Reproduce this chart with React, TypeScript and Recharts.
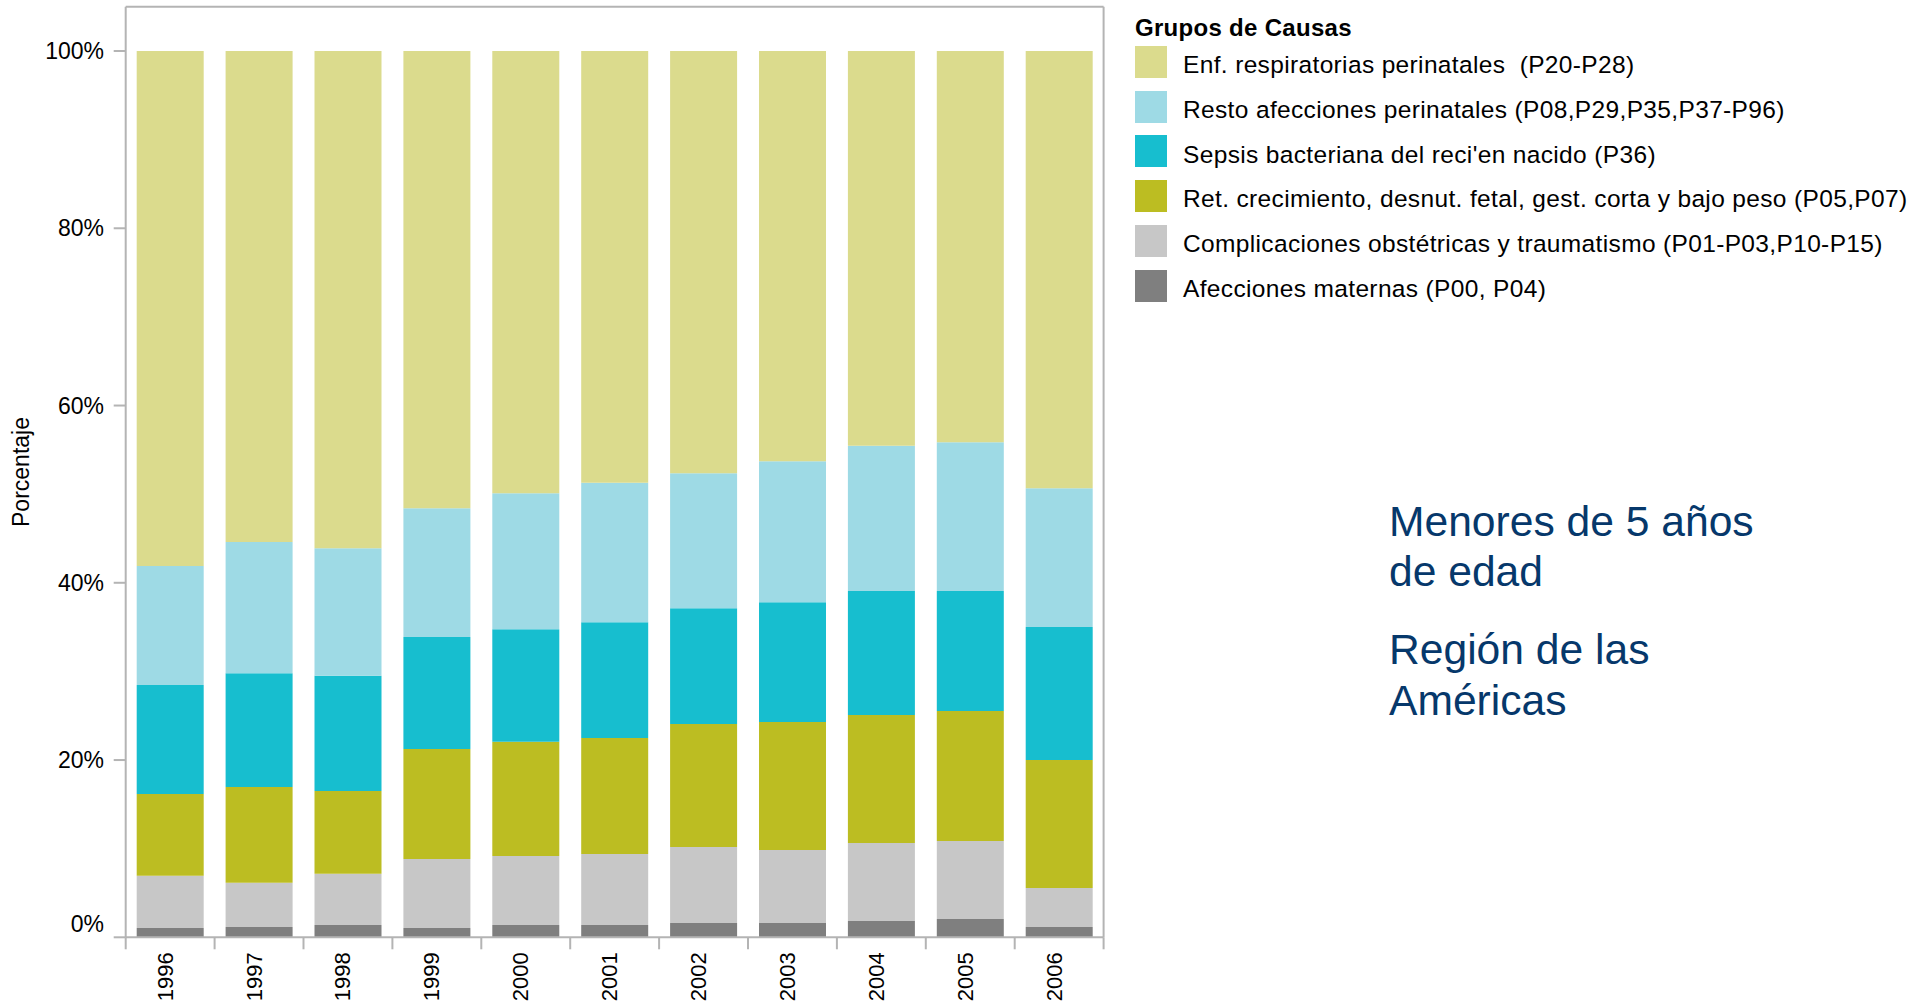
import React from 'react';
import { BarChart, Bar, XAxis, YAxis } from 'recharts';

// ---- Data (percent share of each cause group, per year) ----
const years = ['1996', '1997', '1998', '1999', '2000', '2001', '2002', '2003', '2004', '2005', '2006'];

const afeccionesMaternas = [1.05, 1.16, 1.39, 1.05, 1.39, 1.39, 1.61, 1.61, 1.84, 2.07, 1.16];
const complicacionesObstetricas = [5.9, 5.0, 5.79, 7.78, 7.78, 8.01, 8.58, 8.24, 8.8, 8.79, 4.4];
const retCrecimiento = [9.21, 10.79, 9.32, 12.41, 12.9, 13.08, 13.87, 14.43, 14.43, 14.66, 14.44];
const sepsisBacteriana = [12.3, 12.85, 13.0, 12.63, 12.7, 13.08, 13.08, 13.52, 13.99, 13.54, 15.0];
const restoAfecciones = [13.44, 14.8, 14.4, 14.53, 15.33, 15.74, 15.23, 15.9, 16.39, 16.81, 15.67];
const enfRespiratorias = [58.1, 55.4, 56.1, 51.6, 49.9, 48.7, 47.63, 46.3, 44.55, 44.13, 49.33];

// series from bottom of the stack to top
const seriesKeys = ['mat', 'comp', 'ret', 'sep', 'resto', 'resp'];
const seriesValues = [
  afeccionesMaternas,
  complicacionesObstetricas,
  retCrecimiento,
  sepsisBacteriana,
  restoAfecciones,
  enfRespiratorias,
];
const seriesNames = [
  'Afecciones maternas (P00, P04)',
  'Complicaciones obstétricas y traumatismo (P01-P03,P10-P15)',
  'Ret. crecimiento, desnut. fetal, gest. corta y bajo peso (P05,P07)',
  "Sepsis bacteriana del reci'en nacido (P36)",
  'Resto afecciones perinatales (P08,P29,P35,P37-P96)',
  'Enf. respiratorias perinatales  (P20-P28)',
];
const seriesColors = ['#7f7f7f', '#c7c7c7', '#bcbd22', '#17becf', '#9edae5', '#dbdb8d'];

const yTicks = [0, 20, 40, 60, 80, 100];

const legendTitle = 'Grupos de Causas';
const noteBlock1 = ['Menores de 5 años', 'de edad'];
const noteBlock2 = ['Región de las', 'Américas'];

// ---- Build the table recharts needs ----
const data = years.map((year, i) => {
  const row: Record<string, any> = { year };
  seriesKeys.forEach((k, s) => {
    row[k] = seriesValues[s][i];
  });
  return row;
});

// ---- Layout ----
const W = 1928;
const H = 1006;
const Y_AXIS_W = 125.7;
const PLOT_TOP = 6.7;
const PLOT_RIGHT = 1103.6;
const PLOT_BOTTOM = 937.3;
const BAND = (PLOT_RIGHT - Y_AXIS_W) / years.length;

const FONT = '"Liberation Sans", Arial, Helvetica, sans-serif';
const AXIS_GRAY = '#b4b4b4';
const NAVY = '#06386b';

const YTick = (props: any) => {
  const { x, y, payload } = props;
  const shift = payload.value === 0 ? -13 : 0;
  return (
    <text x={x} y={y + shift} dy="0.355em" textAnchor="end" fontSize={23} fill="#000" fontFamily={FONT}>
      {payload.value}%
    </text>
  );
};

const XTick = (props: any) => {
  const { x, y, payload, index } = props;
  const left = x - BAND / 2;
  const right = x + BAND / 2;
  return (
    <g>
      <line x1={left} x2={left} y1={y} y2={y + 12} stroke={AXIS_GRAY} strokeWidth={2} />
      {index === years.length - 1 && (
        <line x1={right} x2={right} y1={y} y2={y + 12} stroke={AXIS_GRAY} strokeWidth={2} />
      )}
      <text
        transform={`translate(${x + 2.5},${y + 15}) rotate(-90)`}
        textAnchor="end"
        fontSize={22}
        fill="#000"
        fontFamily={FONT}
      >
        {payload.value}
      </text>
    </g>
  );
};

const YLabel = (props: any) => {
  const vb = props.viewBox || { x: 0, y: 0, width: 0, height: 0 };
  return (
    <text
      transform={`translate(${vb.x + 28.5},${vb.y + vb.height / 2}) rotate(-90)`}
      textAnchor="middle"
      fontSize={23}
      fill="#000"
      fontFamily={FONT}
    >
      Porcentaje
    </text>
  );
};

const Legend = () => {
  const order = seriesNames.map((_, i) => i).reverse();
  return (
    <div style={{ position: 'absolute', left: 1135, top: 0, width: 790, height: 320, fontFamily: FONT }}>
      <div
        style={{
          position: 'absolute',
          left: 0,
          top: 15.7,
          fontSize: 24,
          lineHeight: '24px',
          fontWeight: 'bold',
          letterSpacing: '0.3px',
          whiteSpace: 'pre',
          color: '#000',
        }}
      >
        {legendTitle}
      </div>
      {order.map((s, row) => (
        <React.Fragment key={s}>
          <div
            style={{
              position: 'absolute',
              left: 0,
              top: 45.7 + row * 44.8,
              width: 32,
              height: 32,
              background: seriesColors[s],
            }}
          />
          <div
            style={{
              position: 'absolute',
              left: 48,
              top: 53 + row * 44.8,
              fontSize: 24.5,
              lineHeight: '24px',
              letterSpacing: '0.35px',
              whiteSpace: 'pre',
              color: '#000',
            }}
          >
            {seriesNames[s]}
          </div>
        </React.Fragment>
      ))}
    </div>
  );
};

const Note = ({ lines, top }: { lines: string[]; top: number }) => (
  <div
    style={{
      position: 'absolute',
      left: 1389,
      top,
      fontSize: 42.6,
      lineHeight: '50.5px',
      color: NAVY,
      fontFamily: FONT,
      whiteSpace: 'pre',
    }}
  >
    {lines.map((l) => (
      <div key={l}>{l}</div>
    ))}
  </div>
);

export default function App() {
  return (
    <div style={{ position: 'absolute', left: 0, top: 0, width: W, height: H, fontFamily: FONT, background: '#fff' }}>
      <BarChart
        width={W}
        height={H}
        data={data}
        margin={{ top: PLOT_TOP - 1, right: W - PLOT_RIGHT - 1, bottom: H - PLOT_BOTTOM - 1, left: 0 }}
        barSize={67}
      >
        <XAxis
          dataKey="year"
          xAxisId={0}
          height={1}
          interval={0}
          tickSize={0}
          tickMargin={0}
          tickLine={false}
          axisLine={{ stroke: AXIS_GRAY, strokeWidth: 2 }}
          tick={<XTick />}
        />
        <XAxis
          xAxisId="top"
          orientation="top"
          dataKey="year"
          height={1}
          tick={false}
          tickLine={false}
          axisLine={{ stroke: AXIS_GRAY, strokeWidth: 2 }}
        />
        <YAxis
          yAxisId={0}
          type="number"
          domain={[0, 105]}
          allowDataOverflow
          ticks={yTicks}
          width={Y_AXIS_W}
          tickSize={12}
          tickMargin={9.7}
          tickLine={{ stroke: AXIS_GRAY, strokeWidth: 2 }}
          axisLine={{ stroke: AXIS_GRAY, strokeWidth: 2 }}
          tick={<YTick />}
          label={<YLabel />}
        />
        <YAxis
          yAxisId="r"
          orientation="right"
          type="number"
          domain={[0, 105]}
          allowDataOverflow
          width={1}
          tick={false}
          tickLine={false}
          axisLine={{ stroke: AXIS_GRAY, strokeWidth: 2 }}
        />
        {seriesKeys.map((k, s) => (
          <Bar
            key={k}
            dataKey={k}
            name={seriesNames[s]}
            stackId="a"
            xAxisId={0}
            yAxisId={0}
            fill={seriesColors[s]}
            isAnimationActive={false}
          />
        ))}
      </BarChart>
      <Legend />
      <Note lines={noteBlock1} top={495.5} />
      <Note lines={noteBlock2} top={624} />
    </div>
  );
}
